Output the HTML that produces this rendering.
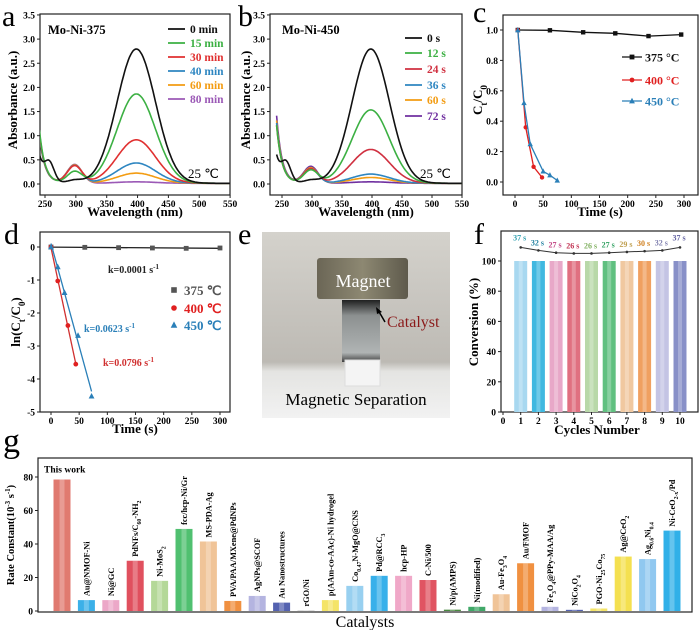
<!DOCTYPE html>
<html><head><meta charset="utf-8"><style>
html,body{margin:0;padding:0;background:#fff;}
svg{display:block;font-family:"Liberation Serif",serif;}
text{font-family:"Liberation Serif",serif;}
</style></head><body>
<svg id="fig" width="700" height="630" viewBox="0 0 700 630" font-family="Liberation Serif, serif" xmlns="http://www.w3.org/2000/svg">
<g>
<defs>
<linearGradient id="bgph" x1="0" y1="0" x2="0" y2="1"><stop offset="0" stop-color="#d4d2cc"/><stop offset="0.7" stop-color="#bdbab4"/><stop offset="0.75" stop-color="#e4e4e2"/><stop offset="1" stop-color="#f2f2f2"/></linearGradient>
<linearGradient id="mag" x1="0" y1="0" x2="1" y2="0"><stop offset="0" stop-color="#6b6656"/><stop offset="0.5" stop-color="#8d8872"/><stop offset="1" stop-color="#5e5a4c"/></linearGradient>
<linearGradient id="vial" x1="0" y1="0" x2="0" y2="1"><stop offset="0" stop-color="#202020"/><stop offset="0.25" stop-color="#8c9090"/><stop offset="0.85" stop-color="#b0b4b4"/><stop offset="1" stop-color="#404040"/></linearGradient>
</defs>
<rect x="262" y="232" width="188" height="186" fill="url(#bgph)"/>
<rect x="317" y="258" width="91" height="41" rx="3" fill="url(#mag)"/>
<rect x="342" y="300" width="38" height="62" fill="url(#vial)"/>
<rect x="345" y="360" width="35" height="26" fill="#f4f4f4" stroke="#ddd"/>
<text x="363" y="287" font-size="18" fill="#fff" text-anchor="middle">Magnet</text>
<line x1="385" y1="322" x2="378" y2="310" stroke="#000" stroke-width="1.5"/>
<polygon points="376,307 382,312 377,314" fill="#000"/>
<text x="387" y="327" font-size="16" fill="#8b1a1a">Catalyst</text>
<text x="356" y="405" font-size="17" fill="#000" text-anchor="middle">Magnetic Separation</text>
</g>
</svg>
<script>
var NS='http://www.w3.org/2000/svg';
var svg=document.getElementById('fig');
function mk(tag,a,parent){var e=document.createElementNS(NS,tag);for(var k in a)e.setAttribute(k,a[k]);(parent||svg).appendChild(e);return e;}
function txt(s,a,parent){var e=mk('text',a,parent);var parts=s.split(/_\{([^}]*)\}/);for(var i=0;i<parts.length;i++){if(!parts[i])continue;var t=document.createElementNS(NS,'tspan');t.textContent=parts[i];if(i%2==1){t.setAttribute('baseline-shift','sub');t.setAttribute('font-size','70%');}e.appendChild(t);}return e;}

// ---------- DATA ----------
var aLabels=['0 min','15 min','30 min','40 min','60 min','80 min'];
var aColors=['#111','#3cb043','#e03030','#2e86c1','#f39c12','#9b59b6'];
var aPeak400=[2.78,1.85,0.9,0.42,0.21,0.03];
var aPeak300=[0.06,0.24,0.36,0.37,0.38,0.39];
var aEdge=[0.55,1.1,1.05,1.0,1.0,1.05];
var aShoulder=[0.38,0,0,0,0,0];
var bLabels=['0 s','12 s','24 s','36 s','60 s','72 s'];
var bColors=['#111','#3cb043','#d03040','#2e86c1','#f39c12','#7030a0'];
var bPeak400=[2.78,1.52,0.7,0.19,0.12,0.03];
var bPeak300=[0.06,0.27,0.3,0.3,0.32,0.35];
var bEdge=[0.55,1.2,1.2,1.25,1.3,1.4];
var bShoulder=[0.38,0,0,0,0,0];
var wlTicks=[250,300,350,400,450,500,550];
var absTicks=[0,0.5,1,1.5,2,2.5,3,3.5];
var cSeries=['375 °C','400 °C','450 °C'];
var cT375=[5,62,121,178,237,295], cV375=[1,0.998,0.985,0.978,0.96,0.97];
var cT400=[5,19,33,48], cV400=[1,0.36,0.1,0.03];
var cT450=[5,16,27,50,62,75], cV450=[1,0.52,0.25,0.07,0.045,0.01];
var cXTicks=[0,50,100,150,200,250,300], cYTicks=[0,0.2,0.4,0.6,0.8,1.0];
var dT375=[0,60,120,180,240,300], dV375=[0,-0.01,-0.02,-0.03,-0.04,-0.03];
var dT400=[0,12,30,44], dV400=[0,-1.03,-2.38,-3.55];
var dT450=[0,12,24,48,72], dV450=[0,-0.6,-1.38,-2.68,-4.52];
var dK=['k=0.0001 s','k=0.0796 s','k=0.0623 s'];
var dXTicks=[0,50,100,150,200,250,300], dYTicks=[0,-1,-2,-3,-4,-5];
var fCycles=[1,2,3,4,5,6,7,8,9,10];
var fConv=[100,100,100,100,100,100,100,100,100,100];
var fTimes=[37,32,27,26,26,27,29,30,32,37];
var fLineY=[109,107,105.5,105,105,105.5,106,106.5,107,109];
var fColors=['#a8d8f0','#40b8e0','#e8a8c8','#e07080','#b8d8a8','#60c080','#f0c8a0','#f0a060','#c4c4e4','#8890c8'];
var fTextColors=['#30a0b0','#2080a0','#c04080','#c03050','#80b060','#30a060','#c0a050','#d08020','#8080b0','#6060a0'];
var fYTicks=[0,20,40,60,80,100];
var gLabels=['This work','Au@NMOF-Ni','Ni@GC','PdNFs/C_{60}-NH_{2}','Ni-MoS_{2}','fcc/hcp-Ni/Gr','MS-PDA-Ag','PVA/PAA/MXene@PdNPs','AgNPs@SCOF','Au Nanostructures','rGO/Ni','p(AAm-co-AAc)-Ni hydrogel','Co_{0.47}N-MgO@CNS','Pd@RCC_{3}','hcp-HP','C-Ni/500','Ni/p(AMPS)','Ni(modified)','Au-Fe_{3}O_{4}','Au/FMOF','Fe_{3}O_{4}@PPy-MAA/Ag','NiCo_{2}O_{4}','PGO-Ni_{25}Co_{75}','Ag@CeO_{2}','Ag_{0.6}Ni_{0.4}','Ni-CeO_{2-x}/Pd'];
var gValues=[78.5,6.5,6.5,30,18,49,41.5,6,9,5,0.3,6.5,15,21,21,18.5,0.8,2.5,10,28.5,2.5,0.7,1.5,32.5,31,48];
var gColors=['#e07a70','#3bb0e8','#eca8c8','#e0505e','#b4d898','#50c070','#f0c498','#f09040','#b4b4e0','#5462b0','#c0c0c0','#f4e468','#98d0f0','#38b0ea','#f0a8c8','#e05462','#4a8a40','#40a868','#f0c498','#f09040','#b4b4e0','#5462b0','#f4e468','#f4e050','#90c8f0','#30b0e8'];
var gYTicks=[0,20,40,60,80];

function frame(x0,y0,x1,y1,name){var r=mk('rect',{x:x0,y:y0,width:x1-x0,height:y1-y0,fill:'none',stroke:'#222','stroke-width':1.2});

}
function xtick(x,y,lab,name){mk('line',{x1:x,y1:y,x2:x,y2:y+3,stroke:'#222'});if(lab!==null){var t=mk('text',{x:x,y:y+12,'font-size':9.5,'font-weight':'bold','text-anchor':'middle'});t.textContent=lab;

}}
function ytick(x,y,lab,name){mk('line',{x1:x,y1:y,x2:x-3,y2:y,stroke:'#222'});var t=mk('text',{x:x-5,y:y+3.5,'font-size':9.5,'font-weight':'bold','text-anchor':'end'});t.textContent=lab;

}
function letter(s,x,y){var t=mk('text',{x:x,y:y,'font-size':30});t.textContent=s;

}
function title(s,x,y,rot,size,name,weight){var a={x:x,y:y,'font-size':size,'font-weight':weight||'bold','text-anchor':'middle'};if(rot)a.transform='rotate(-90 '+x+' '+y+')';var t=txt(s,a);

return t;}
function marker(type,x,y,c,s){if(type=='sq')return mk('rect',{x:x-s,y:y-s,width:2*s,height:2*s,fill:c});if(type=='ci')return mk('circle',{cx:x,cy:y,r:s,fill:c});return mk('polygon',{points:(x)+','+(y-s-0.8)+' '+(x-s-0.5)+','+(y+s)+' '+(x+s+0.5)+','+(y+s),fill:c});}

function spectra(pfx,X0,X1,xs,peak400,peak300,edge,shoulder,colors,labels,legY,legX,sample,sampleX){
  var ys=function(v){return 184-v*48.3;};
  frame(X0,14,X1,195,'panel-'+pfx+'-plot-area');
  for(var i=0;i<wlTicks.length;i++)xtick(xs(wlTicks[i]),195,String(wlTicks[i]),'panel-'+pfx+'-x-tick');
  for(var i=0;i<absTicks.length;i++)ytick(X0,ys(absTicks[i]),absTicks[i].toFixed(1),'panel-'+pfx+'-y-tick');
  var clip=mk('clipPath',{id:'clip'+pfx});mk('rect',{x:X0,y:14,width:X1-X0,height:181},clip);
  for(var s=peak400.length-1;s>=0;s--){
    var d='';for(var w=241;w<=550;w+=2){var v=peak400[s]*Math.exp(-Math.pow((w-398)/44,2))+peak300[s]*Math.exp(-Math.pow((w-298)/17,2))+edge[s]*Math.exp(-(w-241)/9)+shoulder[s]*Math.exp(-Math.pow((w-257)/11,2))+0.015;
      d+=(d?'L':'M')+xs(w).toFixed(1)+','+ys(v).toFixed(1);}
    var p=mk('path',{d:d,fill:'none',stroke:colors[s],'stroke-width':1.6,'clip-path':'url(#clip'+pfx+')'});
    
    
    mk('line',{x1:legX,y1:legY[s],x2:legX+17,y2:legY[s],stroke:colors[s],'stroke-width':1.8});
    var t=mk('text',{x:legX+22,y:legY[s]+4,'font-size':11.5,'font-weight':'bold',fill:colors[s]});t.textContent=labels[s];
    
    
  }
  var t=mk('text',{x:sampleX,y:34,'font-size':12.5,'font-weight':'bold'});t.textContent=sample;
  
  
  var t2=mk('text',{x:X1-42,y:178,'font-size':13});t2.textContent='25 ℃';
  
  
  title('Wavelength (nm)',(X0+X1)/2,216,false,13,'panel-'+pfx+'-x-axis-title');
}
spectra('a',40,230,function(v){return 45+(v-250)*0.617;},aPeak400,aPeak300,aEdge,aShoulder,aColors,aLabels,[29,43,57,71,85,99],168,'Mo-Ni-375',48);
spectra('b',270,462,function(v){return 282+(v-250)*0.6;},bPeak400,bPeak300,bEdge,bShoulder,bColors,bLabels,[38,53,69,85,100,116],405,'Mo-Ni-450',282);
title('Absorbance (a.u.)',17,100,true,13,'panel-a-y-axis-title');
title('Absorbance (a.u.)',250,100,true,13,'panel-b-y-axis-title');
letter('a',2,26);letter('b',238,26);

(function(){
  var xs=function(v){return 515+v*169/300;},ys=function(v){return 182-v*152;};
  frame(503,15,698,195,'panel-c-plot-area');
  for(var i=0;i<cXTicks.length;i++)xtick(xs(cXTicks[i]),195,String(cXTicks[i]),'panel-c-x-tick');
  for(var i=0;i<cYTicks.length;i++)ytick(503,ys(cYTicks[i]),cYTicks[i].toFixed(1),'panel-c-y-tick');
  var sets=[[cT375,cV375,'#111','sq'],[cT400,cV400,'#e02020','ci'],[cT450,cV450,'#2a7fb8','tr']];
  for(var s=0;s<3;s++){var T=sets[s][0],V=sets[s][1],pts='';for(var i=0;i<T.length;i++)pts+=xs(T[i]).toFixed(1)+','+ys(V[i]).toFixed(1)+' ';
    var l=mk('polyline',{points:pts,fill:'none',stroke:sets[s][2],'stroke-width':1.3});
    
    
    for(var i=0;i<T.length;i++){var m=marker(sets[s][3],xs(T[i]),ys(V[i]),sets[s][2],2.2);
      
      }
    var ly=[57,80,101][s];
    mk('line',{x1:622,y1:ly,x2:642,y2:ly,stroke:sets[s][2],'stroke-width':1.3});marker(sets[s][3],632,ly,sets[s][2],2.4);
    var t=mk('text',{x:645,y:ly+4.5,'font-size':12,'font-weight':'bold',fill:sets[s][2]});t.textContent=cSeries[s];
    
    }
  title('Time (s)',600,216,false,13,'panel-c-x-axis-title');
  title('C_{t}/C_{0}',482,100,true,13,'panel-c-y-axis-title');
  letter('c',473,22);
})();

(function(){
  var xs=function(v){return 51+v*169/300;},ys=function(v){return 247-v*33;};
  frame(40,232,230,412,'panel-d-plot-area');
  for(var i=0;i<dXTicks.length;i++)xtick(xs(dXTicks[i]),412,String(dXTicks[i]),'panel-d-x-tick');
  for(var i=0;i<dYTicks.length;i++)ytick(40,ys(dYTicks[i]),String(dYTicks[i]),'panel-d-y-tick');
  var sets=[[dT375,dV375,'#555','sq','#222'],[dT400,dV400,'#e02020','ci','#d03030'],[dT450,dV450,'#2a7fb8','tr','#2a7fb8']];
  var names=['375 ℃','400 ℃','450 ℃'];
  for(var s=0;s<3;s++){var T=sets[s][0],V=sets[s][1];
    var n=T.length,sx=0,sy=0,sxx=0,sxy=0;for(var i=0;i<n;i++){sx+=T[i];sy+=V[i];sxx+=T[i]*T[i];sxy+=T[i]*V[i];}
    var b=(n*sxy-sx*sy)/(n*sxx-sx*sx),a=(sy-b*sx)/n,tEnd=(s==0?300:T[n-1]);
    var l=mk('line',{x1:xs(0),y1:ys(a),x2:xs(tEnd),y2:ys(a+b*tEnd),stroke:sets[s][4],'stroke-width':1.3});
    
    
    for(var i=0;i<n;i++){var m=marker(sets[s][3],xs(T[i]),ys(V[i]),sets[s][2],2.4);
      
      }
    var ly=[290,308,325][s];marker(sets[s][3],174,ly,sets[s][2],2.8);
    var t=mk('text',{x:184,y:ly+5,'font-size':13,'font-weight':'bold',fill:sets[s][2]});t.textContent=names[s];
    
    }
  var kp=[[108,273,'#222'],[103,366,'#d03030'],[84,332,'#2a7fb8']];
  for(var s=0;s<3;s++){var t=mk('text',{x:kp[s][0],y:kp[s][1],'font-size':10,'font-weight':'bold',fill:kp[s][2]});t.textContent=dK[s];
    var sup=document.createElementNS(NS,'tspan');sup.setAttribute('baseline-shift','super');sup.setAttribute('font-size','7');sup.textContent='-1';t.appendChild(sup);
    
    }
  title('Time (s)',135,433,false,13,'panel-d-x-axis-title');
  title('ln(C_{t}/C_{0})',20,322,true,13,'panel-d-y-axis-title');
  letter('d',4,244);
})();
letter('e',238,244);

(function(){
  var xs=function(v){return 503+v*17.7;},ys=function(v){return 412-v*1.51;};
  frame(501,231,698,412,'panel-f-plot-area');
  for(var i=0;i<=10;i++)xtick(xs(i),412,String(i),'panel-f-x-tick');
  for(var i=0;i<fYTicks.length;i++)ytick(501,ys(fYTicks[i]),String(fYTicks[i]),'panel-f-y-tick');
  for(var i=0;i<fCycles.length;i++){var r=mk('rect',{x:xs(fCycles[i])-6.5,y:ys(fConv[i]),width:13,height:ys(0)-ys(fConv[i]),fill:fColors[i]});
    
    
    mk('rect',{x:xs(fCycles[i])-2,y:ys(fConv[i]),width:4,height:ys(0)-ys(fConv[i]),fill:'#fff',opacity:0.25});}
  var pts='';for(var i=0;i<fCycles.length;i++)pts+=xs(fCycles[i]).toFixed(1)+','+ys(fLineY[i]).toFixed(1)+' ';
  var l=mk('polyline',{points:pts,fill:'none',stroke:'#333','stroke-width':1});
  
  
  for(var i=0;i<fCycles.length;i++){mk('circle',{cx:xs(fCycles[i]),cy:ys(fLineY[i]),r:1.3,fill:'#333'});
    var t=mk('text',{x:xs(fCycles[i])-1,y:ys(fLineY[i])-5-(i==0||i==9?2:0),'font-size':8,'font-weight':'bold','text-anchor':'middle',fill:fTextColors[i]});t.textContent=fTimes[i]+' s';
    
    }
  title('Cycles Number',597,434,false,13,'panel-f-x-axis-title');
  title('Conversion (%)',478,322,true,13,'panel-f-y-axis-title');
  letter('f',474,244);
})();

(function(){
  var ys=function(v){return 611-v*1.675;},xs=function(i){return 62+i*24.4;};
  frame(38,458,692,612,'panel-g-plot-area');
  for(var i=0;i<gYTicks.length;i++)ytick(38,ys(gYTicks[i]),String(gYTicks[i]),'panel-g-y-tick');
  for(var i=0;i<gValues.length;i++){var r=mk('rect',{x:xs(i)-8.5,y:ys(gValues[i]),width:17,height:ys(0)-ys(gValues[i]),fill:gColors[i]});
    
    
    mk('rect',{x:xs(i)-2.5,y:ys(gValues[i]),width:5,height:ys(0)-ys(gValues[i]),fill:'#fff',opacity:0.25});
    var t;
    if(i==0){t=txt(gLabels[i],{x:xs(i)-18,y:ys(gValues[i])-7,'font-size':9.5,'font-weight':'bold'});}
    else{var lx=xs(i)+3,ly=ys(gValues[i])-4;t=txt(gLabels[i],{x:lx,y:ly,'font-size':8.3,'font-weight':'bold',transform:'rotate(-90 '+lx+' '+ly+')'});}
    
    }
  var yt=mk('text',{x:14,y:535,'font-size':10.5,'font-weight':'bold','text-anchor':'middle',transform:'rotate(-90 14 535)'});
  yt.textContent='Rate Constant(10';
  var s1=document.createElementNS(NS,'tspan');s1.setAttribute('baseline-shift','super');s1.setAttribute('font-size','7');s1.textContent='-3';yt.appendChild(s1);
  var s2=document.createElementNS(NS,'tspan');s2.textContent=' s';yt.appendChild(s2);
  var s3=document.createElementNS(NS,'tspan');s3.setAttribute('baseline-shift','super');s3.setAttribute('font-size','7');s3.textContent='-1';yt.appendChild(s3);
  var s4=document.createElementNS(NS,'tspan');s4.textContent=')';yt.appendChild(s4);
  
  
  title('Catalysts',365,627,false,16,'panel-g-x-axis-title','normal');
  var g=mk('text',{x:3,y:452,'font-size':34});g.textContent='g';
  
  
})();
</script>
</body></html>
